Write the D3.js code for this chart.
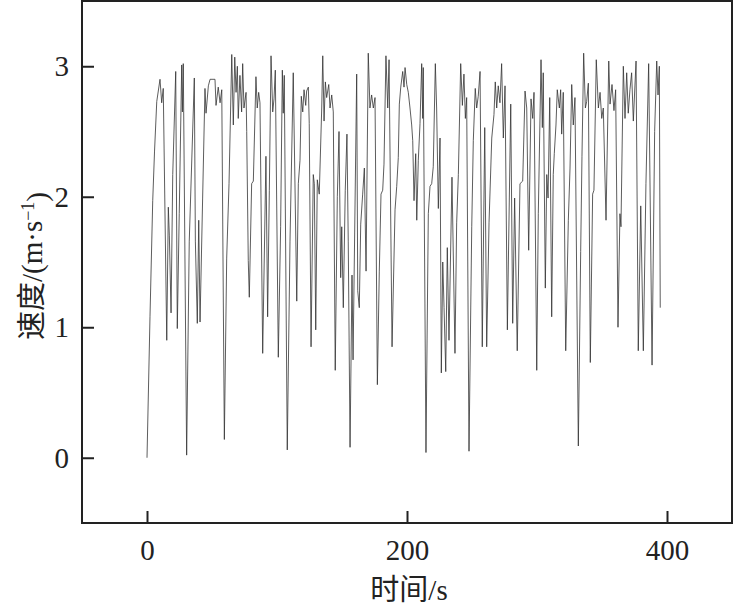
<!DOCTYPE html>
<html>
<head>
<meta charset="utf-8">
<script src="https://cdn.jsdelivr.net/npm/d3@7/dist/d3.min.js"></script>
<style>
html,body{margin:0;padding:0;background:#fff;}
svg{display:block;}
text{font-family:"Liberation Serif","Noto Sans CJK SC",serif;fill:#222;}
</style>
</head>
<body>
<svg id="chart" width="734" height="608"></svg>
<script>
const timeS = [0,2.3,4.4,5.8,7.5,10,11.3,12.5,15.2,16.4,17.2,18.5,19.8,22.1,23.3,24.8,26.7,27.2,27.9,30.5,
32.5,36.4,37.2,38.7,39.8,40.8,42.8,44.6,45.4,47.2,48.5,52.3,53.1,54.8,56.2,57.5,59.5,61.3,63.1,65.2,
66.4,67.5,68.5,69.5,70.2,71.5,72.8,73.6,74.6,76.2,76.7,77.9,78.7,80.5,81.8,83.8,84.8,85.9,86.9,89,
91.5,92.8,94.1,95.4,96.7,97.7,98.7,101,102.8,104.1,104.8,105.6,107.9,110,112.5,115.2,116.4,117.7,118.7,119.8,
120.8,122.1,122.8,124.1,124.8,126.2,127.9,128.7,129.8,131,132.5,134.4,135.2,136.2,137.2,138.2,139.8,140.8,142.1,143.3,
144.8,146.4,147.7,149,149.8,151,152.5,153.8,154.8,156.2,157.7,158.5,161.3,162.1,163.3,164.4,165.9,167.2,168.5,170.2,
171.5,172.8,174.1,175.4,177.2,178.7,180,181.3,182.3,183.8,185.2,186.2,188.5,190.8,192.1,193.3,194.1,195.2,196.7,197.7,
198.5,199.8,201,202.3,203.6,204.4,205.4,206.7,207.5,208.7,210,211.3,212.1,212.5,214.6,216.4,217.7,219,220.2,221.8,
222.8,224.1,225.4,226.4,227.5,228.5,229.8,231,232.3,234.6,236.9,238.2,239.5,241.3,242.6,243.8,244.9,245.9,247.7,249.8,
251,252.5,253.6,254.8,256.2,257.9,259.8,261.3,263.1,265.2,266.9,267.9,269,270.2,271.5,272.8,274.1,275.4,277.2,279.8,
281.3,282.8,284.8,286.9,289,290.8,292.1,293.6,295.4,296.7,297.7,299.8,301,303.1,304.1,304.8,306.4,307.5,308.5,309.8,
311.3,312.5,313.3,314.6,315.6,317.2,318.2,319,320.2,322.1,324.1,325.4,326.7,327.9,329.2,331.8,333.6,334.6,335.9,337.2,
338.2,339.5,341,342.8,343.8,345.6,347.2,348.5,349.8,351,353.1,355.2,356.2,357.7,359.2,360.5,362.3,363.8,364.6,366.4,
367.7,369,370.2,371.5,372.8,374.1,376.2,377.9,379.8,381.8,383.8,385.9,388.5,390.5,392.1,393.1,394.1,394.8];
const speed = [0,1.08,1.97,2.35,2.73,2.9,2.72,2.83,0.9,1.92,1.7,1.11,2.17,2.96,0.99,1.87,3.01,2.65,3.02,0.02,
1.66,2.91,1.66,1.03,1.82,1.04,1.99,2.83,2.64,2.85,2.9,2.9,2.7,2.84,2.72,2.82,0.14,1.53,2.1,3.09,
2.55,3.07,2.8,3.0,2.6,2.93,2.65,3.02,2.68,2.8,2.5,1.51,1.23,2.1,2.12,2.92,2.68,2.8,2.72,0.8,
2.31,1.08,2.05,3.08,2.65,2.75,2.97,0.77,1.77,2.97,2.64,2.93,0.06,1.66,2.95,1.2,2.1,2.28,2.77,2.65,
2.82,2.7,2.81,2.84,2.56,0.85,2.17,2.1,0.98,2.13,2.02,2.68,3.08,2.58,2.88,2.76,2.86,2.68,2.78,2.65,
0.67,2.0,2.5,1.38,1.77,1.15,2.05,2.48,1.66,0.08,1.4,0.75,2.94,1.28,1.15,1.79,2.02,2.22,1.43,3.1,
2.68,2.78,2.68,2.76,0.56,1.43,2.02,2.05,2.25,3.08,2.68,3.05,0.85,1.9,2.08,2.3,2.71,2.84,2.96,2.84,
2.99,2.86,2.8,2.68,2.55,2.43,1.97,2.33,1.82,2.28,2.56,3.02,2.6,2.99,0.04,1.87,2.08,2.1,2.23,3.02,
2.68,1.91,2.45,0.65,1.5,1.15,0.66,1.61,0.9,2.15,0.8,1.8,2.17,3.02,2.7,2.94,2.6,2.76,0.05,1.77,
2.43,2.83,2.68,2.77,2.96,0.85,2.53,0.85,1.8,2.45,2.63,2.88,2.68,2.85,2.72,3.02,2.45,2.85,0.98,2.71,
1.03,1.99,0.82,2.1,2.12,2.81,2.68,1.59,2.75,2.6,2.8,0.67,1.87,3.05,2.53,2.95,1.3,2.17,1.99,2.76,
1.08,2.17,2.33,2.55,2.82,2.68,2.82,2.48,2.8,0.82,1.82,2.22,2.86,2.55,2.76,0.09,1.58,2.31,3.1,2.68,
2.73,2.87,0.73,2.02,2.05,3.05,2.68,2.8,2.6,2.68,1.82,3.04,2.71,2.86,2.66,2.82,1.0,1.87,1.77,3.0,
2.6,2.95,2.64,2.82,2.95,2.58,3.04,0.82,1.93,0.82,2.1,3.02,0.71,2.5,3.04,2.78,3.0,1.15];

const xTicks = [0, 200, 400];
const yTicks = [0, 1, 2, 3];
const xTitle = "时间/s";

const svg = d3.select("#chart");
const L = 82, R = 732, T = 1, B = 523;

const x = d3.scaleLinear().domain([-50, 450]).range([L, R]);
const y = d3.scaleLinear().domain([-0.5, 3.5]).range([B, T]);

const data = timeS.map((t, i) => ({t, v: speed[i]}));

// line
svg.append("path")
  .datum(data)
  .attr("fill", "none")
  .attr("stroke", "#333")
  .attr("stroke-width", 0.8)
  .attr("stroke-linejoin", "round")
  .attr("d", d3.line().x(d => x(d.t)).y(d => y(d.v)));

// frame
svg.append("rect")
  .attr("x", L).attr("y", T)
  .attr("width", R - L).attr("height", B - T)
  .attr("fill", "none").attr("stroke", "#222").attr("stroke-width", 2);

// axes
const xAxis = svg.append("g")
  .attr("transform", `translate(0,${B})`)
  .call(d3.axisBottom(x).tickValues(xTicks).tickFormat(d3.format("d"))
    .tickSizeInner(-12).tickSizeOuter(0).tickPadding(16));
const yAxis = svg.append("g")
  .attr("transform", `translate(${L},0)`)
  .call(d3.axisLeft(y).tickValues(yTicks).tickFormat(d3.format("d"))
    .tickSizeInner(-12).tickSizeOuter(0).tickPadding(13));

[xAxis, yAxis].forEach(g => {
  g.select(".domain").remove();
  g.selectAll(".tick line").attr("stroke", "#222").attr("stroke-width", 2);
  g.selectAll(".tick text")
    .attr("fill", "#222")
    .style("font-family", '"Liberation Serif", serif')
    .style("font-size", "29px");
});

// x title
svg.append("text")
  .attr("x", 409).attr("y", 600)
  .attr("text-anchor", "middle")
  .style("font-size", "29px")
  .text(xTitle);

// y title
const yt = svg.append("text")
  .attr("transform", "translate(42,266) rotate(-90)")
  .attr("text-anchor", "middle")
  .style("font-size", "29px");
yt.append("tspan").text("速度/(m·s");
yt.append("tspan").attr("dy", "-0.45em").style("font-size", "18px").text("−1");
yt.append("tspan").attr("dy", "0.45em").text(")");
</script>
</body>
</html>
